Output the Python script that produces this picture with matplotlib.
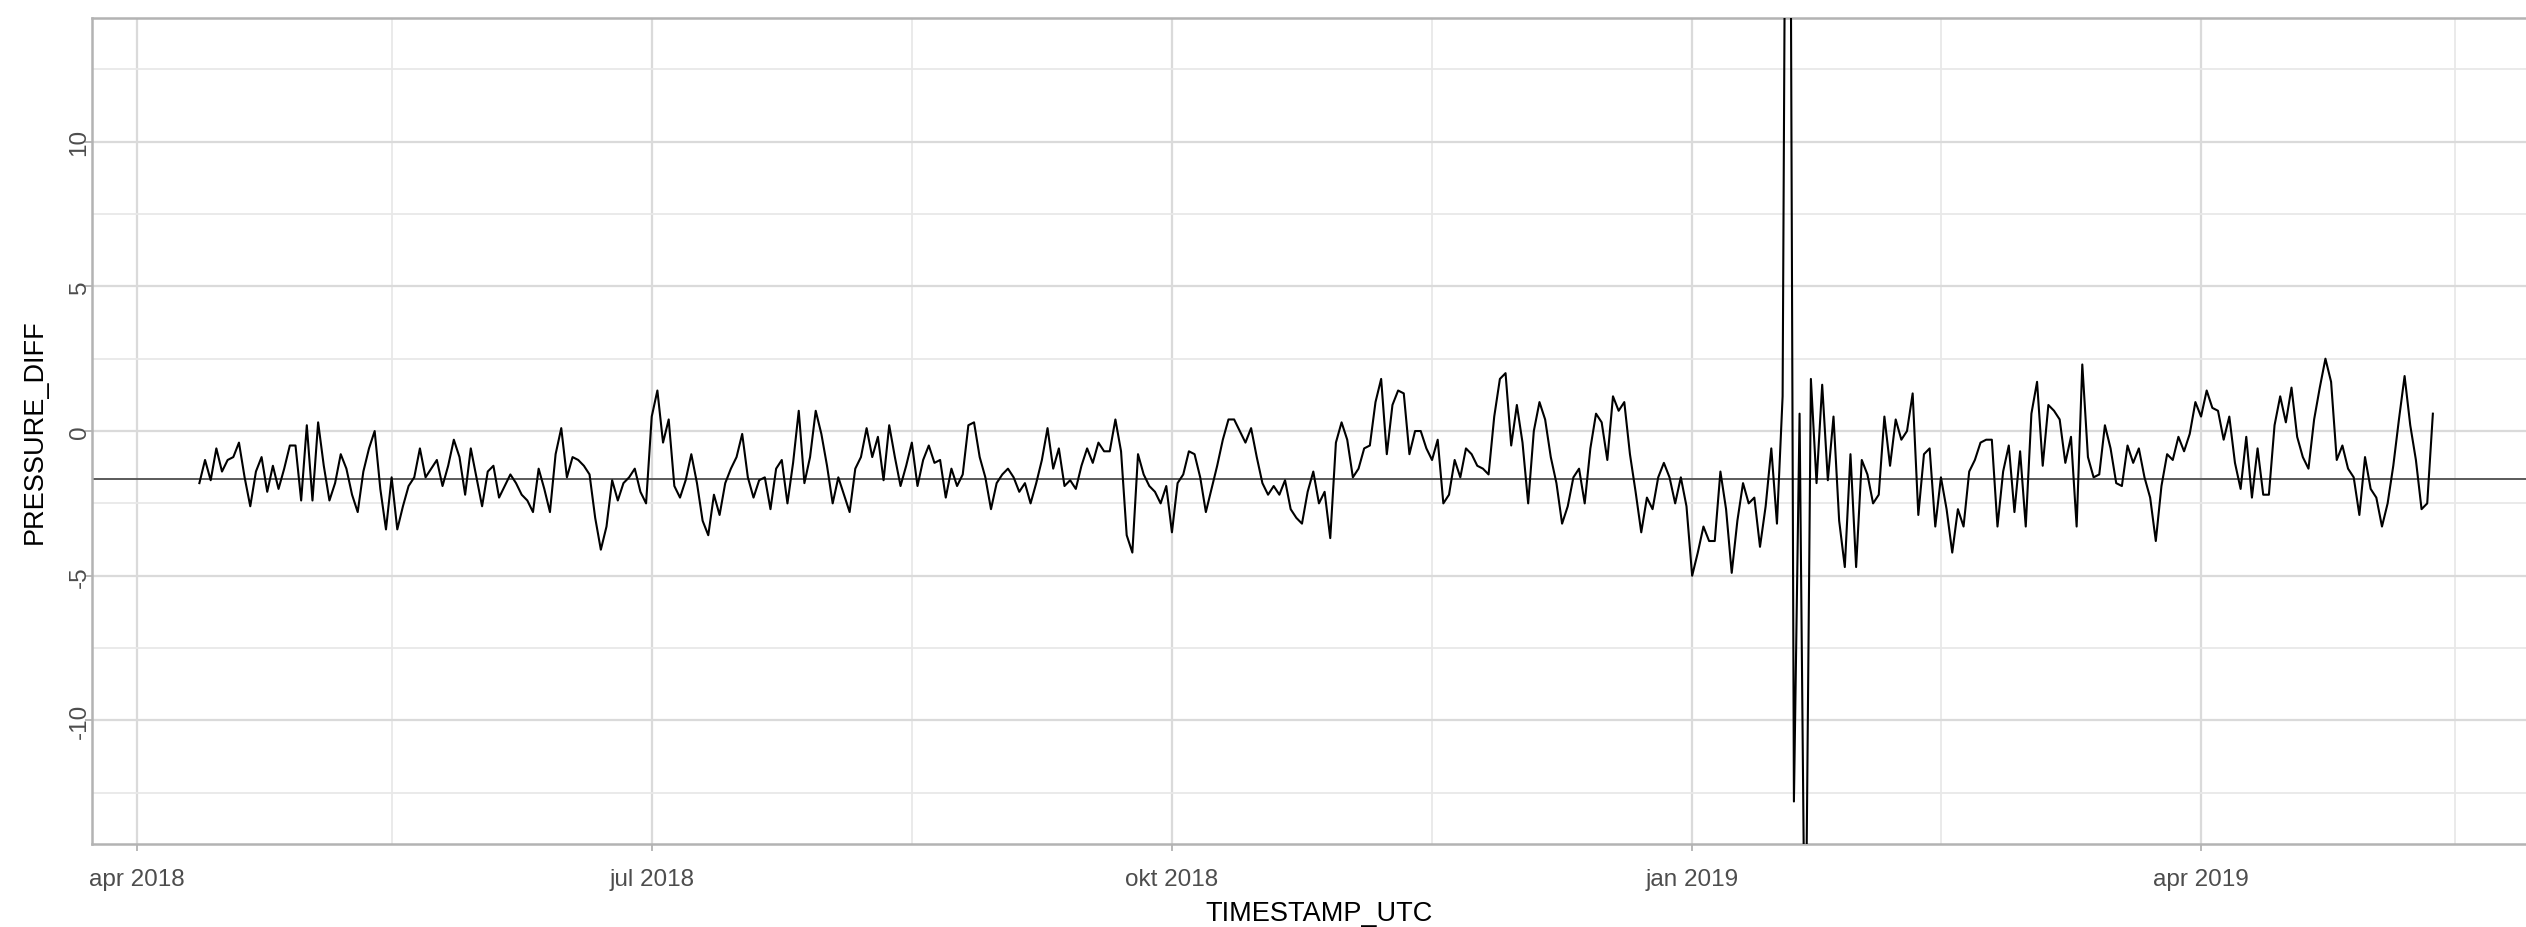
import numpy as np
import pandas as pd
import matplotlib
matplotlib.use("Agg")
from matplotlib import pyplot as plt

plt.rcParams['font.family'] = ['Liberation Sans', 'DejaVu Sans']

# daily PRESSURE_DIFF readings, first reading on 2018-04-12
start_date = '2018-04-12'
seg_apr_jun = [-1.8, -1.0, -1.7, -0.6, -1.4, -1.0, -0.9, -0.4, -1.6, -2.6,
               -1.4, -0.9, -2.1, -1.2, -2.0, -1.3, -0.5, -0.5, -2.4, 0.2,
               -2.4, 0.3, -1.2, -2.4, -1.8, -0.8, -1.3, -2.2, -2.8, -1.4,
               -0.6, 0.0, -2.0, -3.4, -1.6, -3.4, -2.6, -1.9, -1.6, -0.6,
               -1.6, -1.3, -1.0, -1.9, -1.2, -0.3, -0.9, -2.2, -0.6, -1.6,
               -2.6, -1.4, -1.2, -2.3, -1.9, -1.5, -1.8, -2.2, -2.4, -2.8,
               -1.3, -2.0, -2.8, -0.8, 0.1, -1.6]
seg_jun_aug = [-0.9, -1.0, -1.2, -1.5, -3.0, -4.1, -3.3, -1.7, -2.4, -1.8,
               -1.6, -1.3, -2.1, -2.5, 0.5, 1.4, -0.4, 0.4, -1.9, -2.3,
               -1.7, -0.8, -1.8, -3.1, -3.6, -2.2, -2.9, -1.8, -1.3, -0.9,
               -0.1, -1.6, -2.3, -1.7, -1.6, -2.7, -1.3, -1.0, -2.5, -1.1,
               0.7, -1.8, -0.9, 0.7, -0.1, -1.2, -2.5, -1.6, -2.2, -2.8,
               -1.3, -0.9, 0.1, -0.9, -0.2, -1.7, 0.2, -0.9, -1.9, -1.2,
               -0.4, -1.9, -1.0, -0.5, -1.1, -1.0, -2.3]
seg_aug_oct = [-1.3, -1.9, -1.5, 0.2, 0.3, -0.9, -1.6, -2.7, -1.8, -1.5,
               -1.3, -1.6, -2.1, -1.8, -2.5, -1.8, -1.0, 0.1, -1.3, -0.6,
               -1.9, -1.7, -2.0, -1.2, -0.6, -1.1, -0.4, -0.7, -0.7, 0.4,
               -0.7, -3.6, -4.2, -0.8, -1.5, -1.9, -2.1, -2.5, -1.9, -3.5,
               -1.8, -1.5, -0.7, -0.8, -1.6, -2.8, -2.0, -1.2, -0.3, 0.4,
               0.4, 0.0, -0.4, 0.1, -0.9, -1.8, -2.2, -1.9, -2.2, -1.7,
               -2.7, -3.0, -3.2, -2.1, -1.4, -2.5, -2.1]
seg_oct_dec = [-3.7, -0.4, 0.3, -0.3, -1.6, -1.3, -0.6, -0.5, 1.0, 1.8,
               -0.8, 0.9, 1.4, 1.3, -0.8, 0.0, 0.0, -0.6, -1.0, -0.3,
               -2.5, -2.2, -1.0, -1.6, -0.6, -0.8, -1.2, -1.3, -1.5, 0.5,
               1.8, 2.0, -0.5, 0.9, -0.4, -2.5, 0.0, 1.0, 0.4, -0.9,
               -1.8, -3.2, -2.6, -1.6, -1.3, -2.5, -0.6, 0.6, 0.3, -1.0,
               1.2, 0.7, 1.0, -0.8, -2.1, -3.5, -2.3, -2.7, -1.6, -1.1,
               -1.6, -2.5, -1.6, -2.6, -5.0, -4.2, -3.3, -3.8]
seg_jan_feb = [-3.8, -1.4, -2.7, -4.9, -3.1, -1.8, -2.5, -2.3, -4.0, -2.6,
               -0.6, -3.2, 1.2, 40.0, -12.8, 0.6, -20.0, 1.8, -1.8, 1.6,
               -1.7, 0.5, -3.1, -4.7, -0.8, -4.7, -1.0, -1.5, -2.5, -2.2,
               0.5, -1.2, 0.4, -0.3, 0.0, 1.3, -2.9, -0.8, -0.6, -3.3,
               -1.6, -2.7, -4.2, -2.7, -3.3, -1.4, -1.0, -0.4, -0.3, -0.3,
               -3.3, -1.4, -0.5, -2.8, -0.7, -3.3, 0.6, 1.7, -1.2, 0.9,
               0.7, 0.4, -1.1, -0.2]
seg_mar_may = [-3.3, 2.3, -0.9, -1.6, -1.5, 0.2, -0.6, -1.8, -1.9, -0.5,
               -1.1, -0.6, -1.6, -2.3, -3.8, -1.9, -0.8, -1.0, -0.2, -0.7,
               -0.1, 1.0, 0.5, 1.4, 0.8, 0.7, -0.3, 0.5, -1.1, -2.0,
               -0.2, -2.3, -0.6, -2.2, -2.2, 0.2, 1.2, 0.3, 1.5, -0.2,
               -0.9, -1.3, 0.4, 1.5, 2.5, 1.7, -1.0, -0.5, -1.3, -1.6,
               -2.9, -0.9, -2.0, -2.3, -3.3, -2.5, -1.2, 0.4, 1.9, 0.2,
               -1.0, -2.7, -2.5, 0.6]
mean_level = -1.65

x_breaks = ['2018-04-01', '2018-07-01', '2018-10-01', '2019-01-01', '2019-04-01']
x_labels = ['apr 2018', 'jul 2018', 'okt 2018', 'jan 2019', 'apr 2019']
x_minor = ['2018-05-16', '2018-08-16', '2018-11-16', '2019-02-14', '2019-05-16']
y_breaks = [-10, -5, 0, 5, 10]
y_minor = [-12.5, -7.5, -2.5, 2.5, 7.5, 12.5]

values = seg_apr_jun + seg_jun_aug + seg_aug_oct + seg_oct_dec + seg_jan_feb + seg_mar_may
df = pd.DataFrame({'TIMESTAMP_UTC': pd.date_range(start_date, periods=len(values), freq='D'),
                   'PRESSURE_DIFF': values})

fig = plt.figure(figsize=(25.26, 9.28), dpi=100)
ax = fig.add_axes([0.0364, 0.0894, 0.9715, 0.8901])

ax.plot(df['TIMESTAMP_UTC'], df['PRESSURE_DIFF'], color='black', lw=1.5, zorder=3)
ax.axhline(mean_level, color='#5a5a5a', lw=1.4, zorder=2)

# axes limits (ggplot-like expansion)
x0 = pd.Timestamp('2018-04-01')
ax.set_xlim(x0 - pd.Timedelta(days=8), x0 + pd.Timedelta(days=426))
ax.set_ylim(-14.27, 14.27)

ax.set_xticks(pd.to_datetime(x_breaks))
ax.set_xticklabels(x_labels)
ax.set_xticks(pd.to_datetime(x_minor), minor=True)
ax.set_yticks(y_breaks)
ax.set_yticklabels([str(v) for v in y_breaks], rotation=90, va='center')
ax.set_yticks(y_minor, minor=True)

ax.grid(which='major', color='#dadada', lw=1.6, zorder=0)
ax.grid(which='minor', color='#e8e8e8', lw=1.3, zorder=0)
ax.set_axisbelow(True)

for s in ax.spines.values():
    s.set_color('#b3b3b3')
    s.set_linewidth(1.8)

ax.tick_params(which='major', length=5, width=1.3, color='#b3b3b3',
               labelsize=17.5, labelcolor='#4d4d4d')
ax.tick_params(axis='x', which='major', pad=12)
ax.tick_params(axis='y', which='major', pad=-4)
ax.tick_params(which='minor', length=0)

ax.set_xlabel('TIMESTAMP_UTC', fontsize=19.5, color='black')
ax.set_ylabel('PRESSURE_DIFF', fontsize=19.5, color='black')
ax.xaxis.set_label_coords(0.5, -0.0916)
ax.xaxis.label.set_va('baseline')
ax.yaxis.set_label_coords(-0.0232, 0.5)
ax.yaxis.label.set_va('center')

fig.savefig('out.png', dpi=100)
